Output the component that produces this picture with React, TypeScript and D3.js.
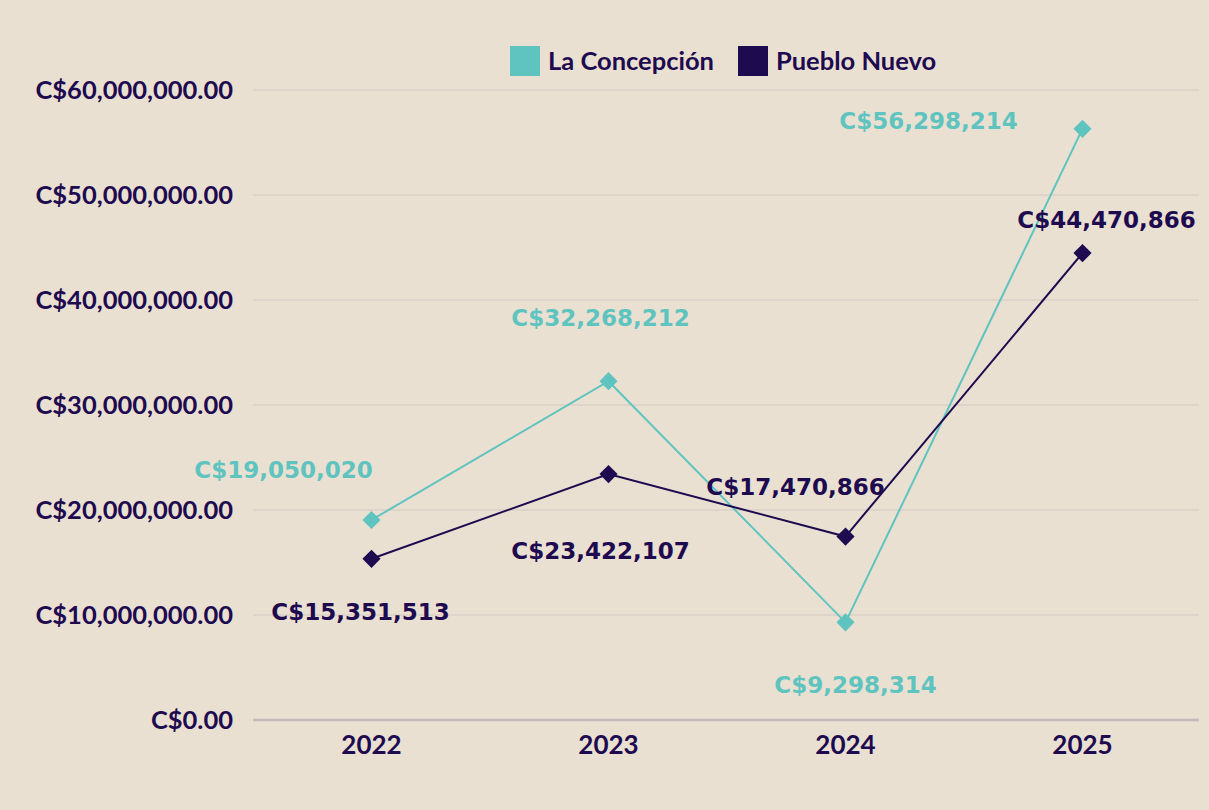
import React, { useRef, useEffect } from 'react';
import * as d3 from 'd3';

// chart data
const years = ['2022', '2023', '2024', '2025'];
const laConcepcion = [19050020, 32268212, 9298314, 56298214];
const puebloNuevo = [15351513, 23422107, 17470866, 44470866];
const yTicks = [0, 10000000, 20000000, 30000000, 40000000, 50000000, 60000000];

// label placement (dx, dy from the marker)
const tealLabelOffsets = [[-88, -50], [-8, -63], [10, 62], [-154, -8]];
const navyLabelOffsets = [[-11, 53], [-8, 77], [-50, -50], [24, -33]];

const TEAL = '#5fc4bf';
const NAVY = '#1d0a4f';
const BG = '#e9e0d2';

const App = () => {
  const ref = useRef<SVGSVGElement>(null);

  useEffect(() => {
    const W = 1209;
    const H = 810;
    const svg = d3.select(ref.current);
    svg.selectAll('*').remove();

    svg.append('rect').attr('width', W).attr('height', H).attr('fill', BG);

    const x = d3.scaleBand().domain(years).range([253, 1201]);
    const y = d3.scaleLinear().domain([0, 60000000]).range([720, 90]);
    const cx = (d: string) => (x(d) as number) + x.bandwidth() / 2;

    // gridlines
    svg
      .append('g')
      .selectAll('line')
      .data(yTicks.filter((t) => t > 0))
      .enter()
      .append('line')
      .attr('x1', 253)
      .attr('x2', 1199)
      .attr('y1', (d) => y(d))
      .attr('y2', (d) => y(d))
      .attr('stroke', '#d3c8c2')
      .attr('stroke-width', 1.2);

    // baseline
    svg
      .append('line')
      .attr('x1', 253)
      .attr('x2', 1199)
      .attr('y1', y(0))
      .attr('y2', y(0))
      .attr('stroke', '#c6b8bb')
      .attr('stroke-width', 2.5);

    // y labels
    const fmtAxis = (v: number) => 'C$' + d3.format(',.2f')(v);
    svg
      .append('g')
      .selectAll('text')
      .data(yTicks)
      .enter()
      .append('text')
      .attr('x', 233)
      .attr('y', (d) => y(d))
      .attr('dy', '0.36em')
      .attr('text-anchor', 'end')
      .attr('font-family', 'Lato')
      .attr('font-weight', 700)
      .attr('font-size', 25.5)
      .attr('fill', NAVY)
      .text(fmtAxis);

    // x labels
    svg
      .append('g')
      .selectAll('text')
      .data(years)
      .enter()
      .append('text')
      .attr('x', cx)
      .attr('y', 754)
      .attr('text-anchor', 'middle')
      .attr('font-family', 'Lato')
      .attr('font-weight', 700)
      .attr('font-size', 26)
      .attr('fill', NAVY)
      .text((d) => d);

    const series = [
      { values: laConcepcion, color: TEAL, offsets: tealLabelOffsets },
      { values: puebloNuevo, color: NAVY, offsets: navyLabelOffsets },
    ];

    const line = d3
      .line<number>()
      .x((_, i) => cx(years[i]))
      .y((d) => y(d));

    const fmtLabel = (v: number) => 'C$' + d3.format(',')(v);

    series.forEach((s) => {
      svg
        .append('path')
        .datum(s.values)
        .attr('d', line)
        .attr('fill', 'none')
        .attr('stroke', s.color)
        .attr('stroke-width', 2);

      svg
        .append('g')
        .selectAll('path')
        .data(s.values)
        .enter()
        .append('path')
        .attr('d', d3.symbol().type(d3.symbolDiamond2).size(210)())
        .attr('transform', (d, i) => `translate(${cx(years[i])},${y(d)})`)
        .attr('fill', s.color);
    });

    // data labels on top
    series.forEach((s) => {
      svg
        .append('g')
        .selectAll('text')
        .data(s.values)
        .enter()
        .append('text')
        .attr('x', (d, i) => cx(years[i]) + s.offsets[i][0])
        .attr('y', (d, i) => y(d) + s.offsets[i][1])
        .attr('dy', '0.36em')
        .attr('text-anchor', 'middle')
        .attr('font-family', '"DejaVu Sans", sans-serif')
        .attr('font-weight', 700)
        .attr('font-size', 23)
        .attr('fill', s.color)
        .text(fmtLabel);
    });

    // legend
    const legendItems = [
      { name: 'La Concepción', color: TEAL, x: 510 },
      { name: 'Pueblo Nuevo', color: NAVY, x: 738 },
    ];
    legendItems.forEach((l) => {
      svg
        .append('rect')
        .attr('x', l.x)
        .attr('y', 46)
        .attr('width', 30)
        .attr('height', 30)
        .attr('fill', l.color);
      svg
        .append('text')
        .attr('x', l.x + 38)
        .attr('y', 61)
        .attr('dy', '0.36em')
        .attr('font-family', 'Lato')
        .attr('font-weight', 700)
        .attr('font-size', 25.5)
        .attr('fill', NAVY)
        .text(l.name);
    });
  }, []);

  return (
    <svg
      ref={ref}
      width={1209}
      height={810}
      style={{ position: 'absolute', left: 0, top: 0, display: 'block' }}
    />
  );
};

export default App;
